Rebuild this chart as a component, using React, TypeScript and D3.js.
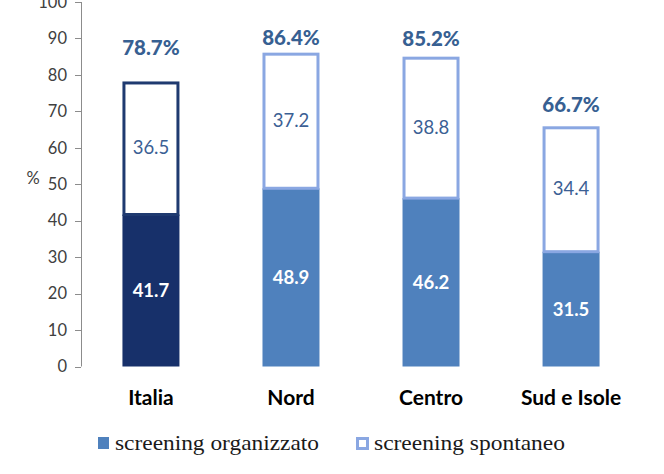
import React from "react";
import * as d3 from "d3";

const categories = ["Italia", "Nord", "Centro", "Sud e Isole"];
const organizzato = [41.7, 48.9, 46.2, 31.5];
const spontaneo = [36.5, 37.2, 38.8, 34.4];
const totalLabels = ["78.7%", "86.4%", "85.2%", "66.7%"];
const totalLabelLevel = [85.5, 88.2, 87.9, 69.8];
const yTicks = [0, 10, 20, 30, 40, 50, 60, 70, 80, 90, 100];
const legendLabels = ["screening organizzato", "screening spontaneo"];

const W = 664;
const H = 474;
const sans = "Lato, 'Liberation Sans', sans-serif";
const serif = "'Liberation Serif', 'DejaVu Serif', serif";

export default function App() {
  const x = d3
    .scaleBand<string>()
    .domain(categories)
    .range([81, 641])
    .paddingInner(0.593)
    .paddingOuter(0.296);
  const y = d3.scaleLinear().domain([0, 100]).range([366.5, 2]);
  const bw = x.bandwidth();
  const fillColor = (i: number) => (i === 0 ? "#17306a" : "#4f81bd");
  const strokeColor = (i: number) => (i === 0 ? "#1f3a70" : "#8aa7e2");
  const sw = 3;

  return (
    <svg
      width={W}
      height={H}
      style={{ position: "absolute", left: 0, top: 0, background: "#fff" }}
    >
      {/* y axis */}
      <line x1={81.5} x2={81.5} y1={y(100)} y2={y(0)} stroke="#8c8c8c" strokeWidth={1} />
      {yTicks.map((t) => (
        <g key={t}>
          <line x1={75} x2={81} y1={Math.round(y(t)) + 0.5} y2={Math.round(y(t)) + 0.5} stroke="#8c8c8c" />
          <text
            x={67}
            y={y(t)}
            dy="0.35em"
            textAnchor="end"
            fontFamily={sans}
            fontSize={16.5}
            fill="#404040"
          >
            {t}
          </text>
        </g>
      ))}
      <text x={33} y={178} dy="0.35em" textAnchor="middle" fontFamily={sans} fontSize={16.5} fill="#404040">
        %
      </text>

      {categories.map((c, i) => {
        const x0 = x(c) as number;
        const cx = x0 + bw / 2;
        const low = organizzato[i];
        const top = low + spontaneo[i];
        return (
          <g key={c}>
            <rect x={x0} y={y(low)} width={bw} height={y(0) - y(low)} fill={fillColor(i)} />
            <rect
              x={x0 + sw / 2}
              y={y(top) + sw / 2}
              width={bw - sw}
              height={y(low) - y(top) - sw / 2}
              fill="#fff"
              stroke={strokeColor(i)}
              strokeWidth={sw}
            />
            <text
              x={cx}
              y={(y(0) + y(low)) / 2}
              dy="0.35em"
              textAnchor="middle"
              fontFamily={sans}
              fontWeight="bold"
              fontSize={18.5}
              fill="#ffffff"
            >
              {low.toFixed(1)}
            </text>
            <text
              x={cx}
              y={(y(low) + y(top)) / 2}
              dy="0.35em"
              textAnchor="middle"
              fontFamily={sans}
              fontSize={18.5}
              fill="#3b6094"
            >
              {spontaneo[i].toFixed(1)}
            </text>
            <text
              x={cx}
              y={y(totalLabelLevel[i])}
              textAnchor="middle"
              fontFamily={sans}
              fontWeight={900}
              fontSize={20.5}
              fill="#376092"
            >
              {totalLabels[i]}
            </text>
            <text
              x={cx}
              y={405}
              textAnchor="middle"
              fontFamily={sans}
              fontWeight="bold"
              fontSize={21}
              fill="#000"
            >
              {c}
            </text>
          </g>
        );
      })}

      {/* legend */}
      <rect x={98} y={437} width={11} height={12} fill="#4f81bd" />
      <text
        x={115}
        y={450}
        fontFamily={serif}
        fontSize={22}
        fill="#1a1a1a"
        textLength={204}
        lengthAdjust="spacingAndGlyphs"
      >
        {legendLabels[0]}
      </text>
      <rect x={357.5} y={438.5} width={10} height={10} fill="#fff" stroke="#8aa7e2" strokeWidth={3} />
      <text
        x={374}
        y={450}
        fontFamily={serif}
        fontSize={22}
        fill="#1a1a1a"
        textLength={191}
        lengthAdjust="spacingAndGlyphs"
      >
        {legendLabels[1]}
      </text>
    </svg>
  );
}
